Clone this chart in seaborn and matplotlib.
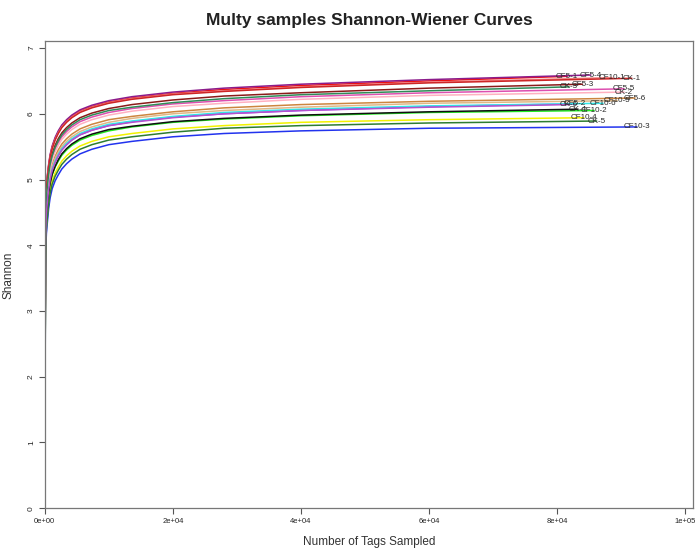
import matplotlib
matplotlib.use("Agg")
from matplotlib import pyplot as plt
import seaborn as sns
import pandas as pd

depths = [0, 100, 160, 250, 420, 600, 830, 1150, 1610, 2100, 2660, 3400, 4220,
          5500, 7340, 10000, 13600, 20000, 28000, 40000, 60000]

samples = ["CF5-1", "CF5-2", "CF5-3", "CF5-4", "CF5-5", "CF5-6",
           "CF10-1", "CF10-2", "CF10-3", "CF10-4", "CF10-5", "CF10-6",
           "CK-1", "CK-2", "CK-3", "CK-4", "CK-5", "CK-6"]

end_depth = {
    "CF5-1": 81600, "CF5-2": 82800, "CF5-3": 84000, "CF5-4": 85300, "CF5-5": 90500, "CF5-6": 92200,
    "CF10-1": 88600, "CF10-2": 85800, "CF10-3": 92500, "CF10-4": 84200, "CF10-5": 89400, "CF10-6": 87200,
    "CK-1": 91700, "CK-2": 90500, "CK-3": 81900, "CK-4": 83300, "CK-5": 86200, "CK-6": 81900,
}

shannon = {
    "CF5-1": [0, 4.43, 4.70, 4.88, 5.06, 5.21, 5.36, 5.49, 5.62, 5.72, 5.81, 5.89, 5.96, 6.04, 6.11, 6.18, 6.24, 6.31, 6.37, 6.43, 6.50, 6.57],
    "CF5-2": [0, 3.97, 4.29, 4.50, 4.68, 4.85, 5.01, 5.15, 5.27, 5.36, 5.45, 5.53, 5.60, 5.68, 5.75, 5.82, 5.88, 5.95, 6.00, 6.05, 6.11, 6.15],
    "CF5-3": [0, 4.30, 4.58, 4.77, 4.95, 5.11, 5.26, 5.39, 5.52, 5.62, 5.71, 5.79, 5.86, 5.94, 6.01, 6.08, 6.14, 6.21, 6.27, 6.32, 6.39, 6.45],
    "CF5-4": [0, 4.45, 4.72, 4.90, 5.08, 5.23, 5.38, 5.51, 5.64, 5.74, 5.83, 5.91, 5.98, 6.06, 6.13, 6.20, 6.26, 6.33, 6.39, 6.45, 6.52, 6.59],
    "CF5-5": [0, 4.22, 4.51, 4.71, 4.89, 5.05, 5.20, 5.33, 5.46, 5.56, 5.65, 5.73, 5.80, 5.88, 5.95, 6.02, 6.08, 6.15, 6.20, 6.26, 6.32, 6.38],
    "CF5-6": [0, 4.08, 4.39, 4.58, 4.77, 4.94, 5.09, 5.22, 5.35, 5.45, 5.54, 5.62, 5.69, 5.77, 5.84, 5.91, 5.96, 6.03, 6.09, 6.14, 6.19, 6.24],
    "CF10-1": [0, 4.41, 4.69, 4.87, 5.05, 5.20, 5.35, 5.48, 5.61, 5.71, 5.80, 5.88, 5.95, 6.03, 6.10, 6.17, 6.23, 6.30, 6.35, 6.41, 6.48, 6.55],
    "CF10-2": [0, 3.87, 4.20, 4.41, 4.60, 4.77, 4.93, 5.07, 5.19, 5.28, 5.37, 5.45, 5.52, 5.60, 5.67, 5.74, 5.80, 5.87, 5.92, 5.97, 6.02, 6.05],
    "CF10-3": [0, 3.60, 3.96, 4.18, 4.37, 4.56, 4.72, 4.86, 4.98, 5.07, 5.16, 5.24, 5.31, 5.39, 5.46, 5.53, 5.58, 5.65, 5.70, 5.74, 5.78, 5.80],
    "CF10-4": [0, 3.75, 4.10, 4.31, 4.50, 4.68, 4.84, 4.98, 5.10, 5.19, 5.28, 5.36, 5.43, 5.51, 5.58, 5.65, 5.70, 5.77, 5.82, 5.87, 5.91, 5.94],
    "CF10-5": [0, 4.03, 4.35, 4.55, 4.73, 4.90, 5.06, 5.19, 5.32, 5.41, 5.50, 5.58, 5.65, 5.73, 5.80, 5.87, 5.93, 6.00, 6.05, 6.10, 6.16, 6.20],
    "CF10-6": [0, 3.99, 4.31, 4.51, 4.70, 4.87, 5.02, 5.16, 5.28, 5.38, 5.47, 5.55, 5.62, 5.70, 5.77, 5.84, 5.89, 5.96, 6.02, 6.07, 6.12, 6.16],
    "CK-1": [0, 4.40, 4.68, 4.86, 5.04, 5.19, 5.34, 5.47, 5.60, 5.70, 5.79, 5.87, 5.94, 6.02, 6.09, 6.16, 6.22, 6.29, 6.34, 6.40, 6.47, 6.54],
    "CK-2": [0, 4.17, 4.47, 4.66, 4.85, 5.01, 5.16, 5.30, 5.42, 5.52, 5.61, 5.69, 5.76, 5.84, 5.91, 5.98, 6.04, 6.11, 6.16, 6.22, 6.28, 6.33],
    "CK-3": [0, 4.25, 4.55, 4.73, 4.92, 5.08, 5.23, 5.36, 5.49, 5.59, 5.68, 5.76, 5.83, 5.91, 5.98, 6.05, 6.10, 6.17, 6.23, 6.29, 6.35, 6.41],
    "CK-4": [0, 3.89, 4.22, 4.42, 4.61, 4.79, 4.94, 5.08, 5.20, 5.30, 5.39, 5.47, 5.54, 5.62, 5.69, 5.76, 5.81, 5.88, 5.93, 5.98, 6.03, 6.07],
    "CK-5": [0, 3.69, 4.04, 4.26, 4.45, 4.63, 4.79, 4.93, 5.05, 5.14, 5.23, 5.31, 5.38, 5.46, 5.53, 5.60, 5.65, 5.72, 5.78, 5.82, 5.86, 5.89],
    "CK-6": [0, 3.96, 4.29, 4.49, 4.68, 4.85, 5.00, 5.14, 5.26, 5.36, 5.45, 5.53, 5.60, 5.68, 5.75, 5.82, 5.87, 5.94, 6.00, 6.05, 6.10, 6.14],
}

colors = {
    "CF5-1": "#EE1111", "CF5-2": "#9B30FF", "CF5-3": "#8B1A1A", "CF5-4": "#8B1C8B",
    "CF5-5": "#DD4FB0", "CF5-6": "#CD853F",
    "CF10-1": "#F08080", "CF10-2": "#22EE22", "CF10-3": "#2233EE", "CF10-4": "#F2F200",
    "CF10-5": "#DEB887", "CF10-6": "#33E5E5",
    "CK-1": "#CD2626", "CK-2": "#FFB0C0", "CK-3": "#2E8B57", "CK-4": "#111111",
    "CK-5": "#2E7D32", "CK-6": "#B452CD",
}

rows = []
for s in samples:
    xs = depths + [end_depth[s]]
    for x, y in zip(xs, shannon[s]):
        rows.append({"sample": s, "tags": x, "shannon": y})
df = pd.DataFrame(rows)

sns.set_style("white")
plt.rcParams['font.family'] = ['Liberation Sans', 'DejaVu Sans']

fig = plt.figure(figsize=(7, 5.53), dpi=100)
ax = fig.add_axes([0.064, 0.081, 0.926, 0.844])

sns.lineplot(data=df, x="tags", y="shannon", hue="sample", palette=colors,
             estimator=None, sort=False, linewidth=1.1, legend=False, ax=ax)

# sample names at the end of each curve
for s in samples:
    ax.text(end_depth[s], shannon[s][-1], s, fontsize=5.8, ha="center", va="center")

ax.set_xlim(0, 101250)
ax.set_ylim(0, 7.1)
ax.set_xticks([0, 20000, 40000, 60000, 80000, 100000])
ax.set_xticklabels(["0e+00", "2e+04", "4e+04", "6e+04", "8e+04", "1e+05"], fontsize=5.5)
ax.set_yticks(range(8))
ax.set_yticklabels([str(i) for i in range(8)], fontsize=6, rotation=90, va="center")
ax.tick_params(direction="out", length=4, width=0.8, color="#555555", pad=3,
               bottom=True, left=True)
for sp in ax.spines.values():
    sp.set_color("#777777")
    sp.set_linewidth(0.9)

ax.set_xlabel("Number of Tags Sampled", fontsize=8.5, color="#333333", labelpad=8)
ax.set_ylabel("Shannon", fontsize=8.5, color="#333333", labelpad=10)
ax.set_title("Multy samples Shannon-Wiener Curves", fontsize=12.5, pad=12,
             fontweight="bold", color="#222222")

fig.savefig("out.png", dpi=100)
